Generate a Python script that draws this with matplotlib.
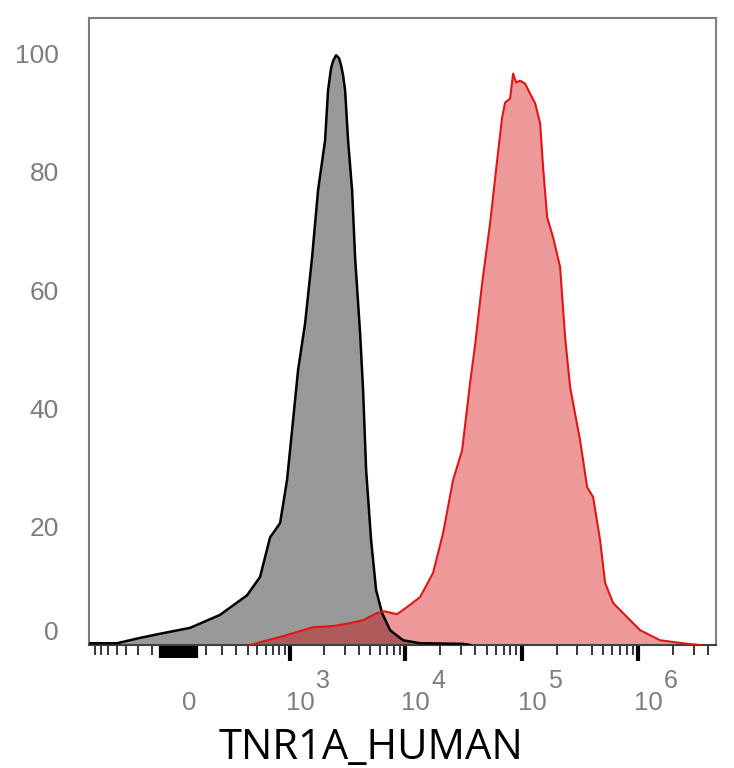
import matplotlib
matplotlib.use('Agg')
import matplotlib.pyplot as plt

plt.rcParams['font.family'] = ['Liberation Sans', 'DejaVu Sans']

# 灰色 (对照) 直方图: 荧光强度 vs % of max
gray_x = [-904, -497, -284, -149, 16, 186, 394, 531, 660, 815, 941, 1065, 1179,
          1359, 1563, 1763, 2029, 2153, 2285, 2386, 2525, 2682, 2790, 2904, 3022,
          3207, 3473, 3687, 4071, 4320, 4588, 5065, 5592, 6292, 7381, 9540, 13360,
          31300, 35960]
gray_y = [0.3, 0.3, 1.2, 1.9, 2.9, 5.1, 8.4, 11.5, 18.2, 20.6, 27.9, 38.0, 46.5,
          54.4, 65.5, 76.9, 85.3, 93.8, 97.5, 98.8, 99.7, 99.2, 98.0, 96.3, 93.8,
          85.3, 76.9, 65.5, 52.7, 43.1, 29.6, 17.7, 9.3, 5.4, 2.5, 0.8, 0.3,
          0.2, 0.0]

# 红色 (TNR1A 染色) 直方图
red_x = [423, 593, 815, 1595, 2386, 3340, 4320, 5700, 6550, 8470, 10970, 13360,
         17290, 21070, 25680, 30710, 35960, 39700, 45620, 53450, 61420, 67810,
         71950, 79460, 84300, 89460, 96830, 106900, 118000, 130300, 143900,
         152700, 165400, 186200, 213700, 236000, 260500, 317500, 364900, 411000,
         472000, 520900, 610700, 805900, 1042000, 1549000, 2645000, 3415000]
red_y = [0.0, 0.7, 1.35, 3.0, 3.2, 3.7, 4.2, 5.4, 5.7, 5.2, 6.8, 8.1,
         12.2, 18.9, 27.9, 32.9, 44.3, 50.7, 61.1, 71.3, 81.9, 89.2,
         91.7, 92.4, 96.6, 95.1, 95.4, 94.9, 93.2, 91.6, 88.2,
         80.7, 72.3, 68.9, 63.9, 52.0, 43.6, 34.6, 26.7, 25.0,
         17.7, 10.5, 7.1, 4.7, 2.5, 0.8, 0.2, 0.0]

y_ticks = [0, 20, 40, 60, 80, 100]
decades = [1e3, 1e4, 1e5, 1e6]
decade_exps = ['3', '4', '5', '6']
x_label = 'TNR1A_HUMAN'

label_gray = '#7d7d7d'

fig = plt.figure(figsize=(7.34, 7.68), dpi=100)
ax = fig.add_axes([89 / 734, 1 - 645 / 768, 627 / 734, 627 / 768])

ax.fill_between(gray_x, gray_y, 0, color='#999999', lw=0, zorder=1)
ax.fill_between(red_x, red_y, 0, color='#d40000', alpha=0.4, lw=0, zorder=2)
ax.plot(gray_x, gray_y, color='black', lw=1.8, zorder=3)
ax.plot(red_x, red_y, color='#e01515', lw=1.5, zorder=4)

ax.set_xscale('asinh', linear_width=265)
ax.set_xlim(-904, 4.68e6)
ax.set_ylim(0, 106)

# y 轴
ax.set_yticks(y_ticks)
ax.set_yticklabels([str(t) for t in y_ticks])
ax.tick_params(axis='y', length=0, pad=21.6, labelsize=19, labelcolor=label_gray)
ax.yaxis.get_major_ticks()[0].label1.set_verticalalignment('bottom')

# x 轴刻度 (双指数坐标)
block = list(range(-150, 60, 10))
minor = [-100 * k for k in range(2, 9)] + [100 * k for k in range(1, 10)]
for d in [1e3, 1e4, 1e5]:
    minor += [d * k for k in range(2, 10)]
minor += [2e6, 3e6, 4e6]
minor_all = block + minor
ax.set_xticks(decades)
ax.set_xticklabels([''] * len(decades))
ax.set_xticks(minor_all, minor=True)
ax.tick_params(axis='x', which='major', length=11.5, width=3, color='black',
               labelbottom=False)
ax.tick_params(axis='x', which='minor', length=7.2, width=1.1, color='black',
               labelbottom=False)
for tk, loc in zip(ax.xaxis.get_minor_ticks(len(minor_all)), minor_all):
    if loc in block:
        tk.tick1line.set_markersize(9.4)
        tk.tick1line.set_markeredgewidth(1.6)

ax.annotate('0', xy=(0, 0), xycoords=('data', 'axes fraction'),
            xytext=(2, -65), textcoords='offset pixels',
            ha='center', va='baseline', fontsize=18.5, color=label_gray)
for v, e in zip(decades, decade_exps):
    ax.annotate('10', xy=(v, 0), xycoords=('data', 'axes fraction'),
                xytext=(-4, -65), textcoords='offset pixels',
                ha='left', va='baseline', fontsize=18.5, color=label_gray)
    ax.annotate(e, xy=(v, 0), xycoords=('data', 'axes fraction'),
                xytext=(26, -43), textcoords='offset pixels',
                ha='left', va='baseline', fontsize=18, color=label_gray)

for side in ['top', 'right', 'left']:
    ax.spines[side].set_color('#7f7f7f')
    ax.spines[side].set_linewidth(1.5)
ax.spines['bottom'].set_color('#404040')
ax.spines['bottom'].set_linewidth(1.5)

fig.text(371 / 734, 1 - 759 / 768, x_label, ha='center', va='baseline',
         fontsize=30, family=['Open Sans', 'DejaVu Sans'], color='black')

fig.savefig('out.png', dpi=100)
